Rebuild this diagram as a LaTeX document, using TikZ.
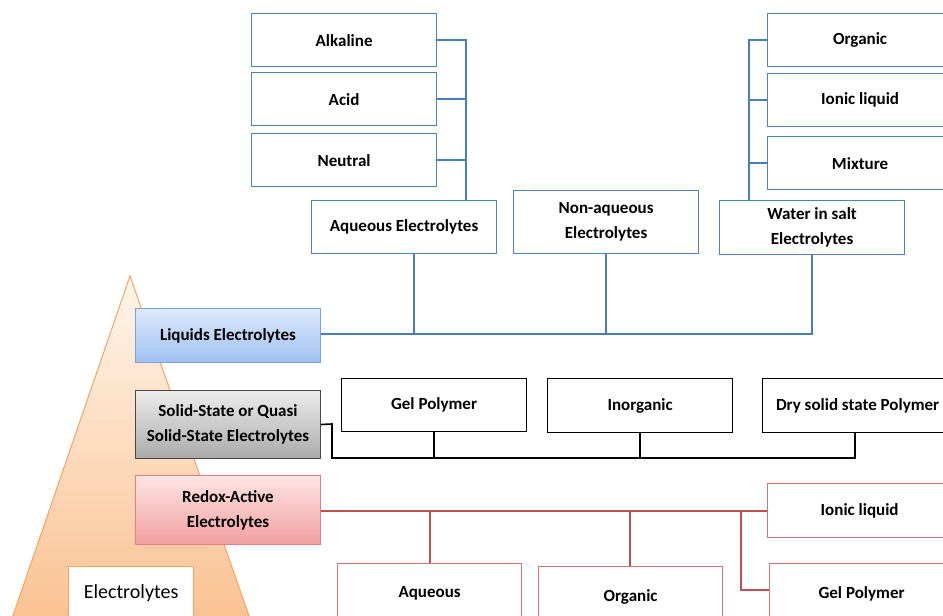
\documentclass[tikz,border=0pt]{standalone}
\usepackage{fontspec}
\setmainfont{Carlito}
\definecolor{bl}{HTML}{4F81BD}
\definecolor{blline}{HTML}{4A7EBB}
\definecolor{rd}{HTML}{C0504D}
\definecolor{rdb}{HTML}{D27573}
\definecolor{orb}{HTML}{F5A462}
\begin{document}
\begin{tikzpicture}[x=1pt,y=-1pt,
  every node/.style={font=\fontsize{17}{20}\selectfont\bfseries, align=center, inner sep=0pt},
  bbox/.style={draw=bl, line width=1.2pt, fill=white, minimum width=185pt, minimum height=53pt, anchor=north west},
  kbox/.style={draw=black, line width=1.2pt, fill=white, minimum width=185pt, minimum height=53pt, anchor=north west},
  rbox/.style={draw=rdb, line width=1.2pt, fill=white, minimum width=184pt, minimum height=54pt, anchor=north west},
  cat/.style={line width=1pt, minimum width=185pt, anchor=north west},
  bline/.style={draw=blline, line width=2pt},
  kline/.style={draw=black, line width=1.6pt},
  rline/.style={draw=rd, line width=1.8pt}]
\useasboundingbox (0,0) rectangle (943,616);
\clip (0,0) rectangle (943,616);
% pyramid
\shade[top color=orange!8, bottom color={rgb,255:red,250;green,192;blue,143}, draw=orb, line width=1pt]
  (130,276) -- (8,630) -- (254,630) -- cycle;
\node[draw=orb, fill=white, line width=1.2pt, minimum width=125pt, minimum height=54pt, anchor=north west, font=\fontsize{20}{24}\selectfont] (elec) at (68,566) {Electrolytes};
% category boxes
\node[cat, draw={rgb,255:red,124;green,163;blue,216}, top color={rgb,255:red,222;green,233;blue,252}, bottom color={rgb,255:red,160;green,192;blue,242}, minimum height=54pt] (liq) at (135,308) {Liquids Electrolytes};
\node[cat, draw={rgb,255:red,70;green,70;blue,70}, top color={rgb,255:red,236;green,236;blue,236}, bottom color={rgb,255:red,170;green,170;blue,170}, minimum height=68pt] (sol) at (135,390) {Solid-State or Quasi\\[5pt]Solid-State Electrolytes};
\node[cat, draw={rgb,255:red,224;green,128;blue,128}, top color={rgb,255:red,254;green,228;blue,228}, bottom color={rgb,255:red,242;green,160;blue,160}, minimum height=69pt] (red) at (135,475) {Redox-Active\\[5pt]Electrolytes};
% liquid subtree
\node[bbox] (alk) at (251,13) {Alkaline};
\node[bbox] (acid) at (251,72) {Acid};
\node[bbox] (neu) at (251,133) {Neutral};
\node[bbox] (aq) at (311,200) {Aqueous Electrolytes};
\node[bbox, minimum height=63pt] (naq) at (513,190) {Non-aqueous\\[5pt]Electrolytes};
\node[bbox, minimum height=54pt] (wis) at (719,200) {Water in salt\\[5pt]Electrolytes};
\node[bbox] (org) at (767,13) {Organic};
\node[bbox] (ion) at (767,73) {Ionic liquid};
\node[bbox] (mix) at (767,136) {Mixture};
\coordinate (lv) at (466,0);
\coordinate (rv) at (749,0);
\draw[bline] (alk.east) -- (alk.east -| lv) |- (acid.east);
\draw[bline] (neu.east) -- (neu.east -| lv);
\draw[bline] (alk.east -| lv) -- (aq.north -| lv);
\draw[bline] (org.west) -- (org.west -| rv) -- (wis.north -| rv);
\draw[bline] (ion.west) -- (ion.west -| rv);
\draw[bline] (mix.west) -- (mix.west -| rv);
\coordinate (lb) at (0,334);
\draw[bline] (liq.east |- lb) -- (wis.south |- lb) -- (wis.south);
\draw[bline] (aq.south -| 414,0) -- (414,334);
\draw[bline] (naq.south) -- (naq.south |- lb);
% solid subtree
\node[kbox] (gel) at (341,378) {Gel Polymer};
\node[kbox, minimum height=54pt] (ino) at (547,378) {Inorganic};
\node[kbox, minimum width=190pt, minimum height=54pt] (dry) at (762,378) {Dry solid state Polymer};
\draw[kline] (sol.east) -- (332,424) -- (332,458) -- (855,458) -- (855,432);
\draw[kline] (gel.south -| 434,0) -- (434,458);
\draw[kline] (ino.south) -- (ino.south |- 0,458);
% redox subtree
\node[rbox] (ril) at (767,483) {Ionic liquid};
\node[rbox, minimum height=60pt] (raq) at (337,563) {Aqueous};
\node[rbox, minimum height=60pt] (rorg) at (538,566) {Organic};
\node[rbox, minimum height=60pt] (rgel) at (769,563) {Gel Polymer};
\draw[rline] (red.east |- 0,511) -- (ril.west |- 0,511);
\draw[rline] (430,511) -- (raq.north -| 430,0);
\draw[rline] (630,511) -- (rorg.north -| 630,0);
\draw[rline] (741,511) -- (741,590) -- (rgel.west |- 0,590);
\end{tikzpicture}
\end{document}
